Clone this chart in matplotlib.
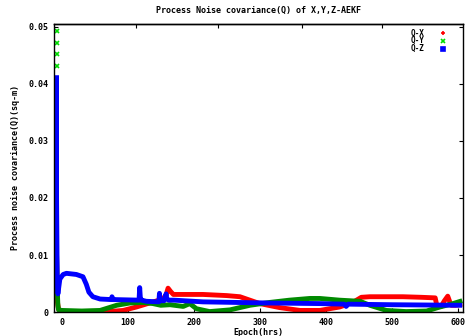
import numpy as np
import matplotlib
matplotlib.use('Agg')
import matplotlib.pyplot as plt

# values (epoch in hrs, Q in sq-m)
qx_t = [-8, -8, -7, -5, 0, 30, 60, 93, 113, 133, 153, 158, 161, 165, 169, 214, 250, 270, 285, 300,
        330, 361, 391, 421, 441, 454, 467, 517, 545, 566, 569, 575, 580, 585, 590, 597, 607]
qx_v = [0.030, 0.010, 0.002, 0.0005, 0.0001, 0.0, 0.0, 0.0003, 0.0009, 0.0016, 0.0023, 0.0030, 0.0042, 0.0036, 0.0031, 0.0031, 0.0029, 0.0027, 0.0021, 0.0015,
        0.0008, 0.0003, 0.0003, 0.0009, 0.0017, 0.0026, 0.0027, 0.0027, 0.0026, 0.0025, 0.0009, 0.0010, 0.0020, 0.0028, 0.0012, 0.0012, 0.0014]

qy_t = [-8, -8, -7, -6, -5, 0, 30, 58, 83, 103, 123, 138, 150, 164, 184, 194, 204, 224, 255, 285,
        315, 345, 376, 391, 421, 452, 467, 492, 522, 553, 573, 593, 607]
qy_v = [0.030, 0.010, 0.004, 0.0012, 0.0004, 0.0003, 0.0002, 0.0003, 0.0012, 0.0016, 0.0017, 0.0015, 0.0012, 0.0013, 0.0010, 0.0015, 0.0006, 0.0001, 0.0004, 0.0012,
        0.0017, 0.0021, 0.0024, 0.0024, 0.0021, 0.0019, 0.0012, 0.0003, 0.0001, 0.0002, 0.0009, 0.0015, 0.0020]
qy_pts_t = [-7, -7, -7, -7]
qy_pts_v = [0.0493, 0.0472, 0.0452, 0.0431]

qz_t = [-8, -8, -7, -6, -3, 2, 7, 22, 32, 37, 41, 47, 58, 75, 76, 78, 80, 117, 118, 119, 121, 128,
        147, 148, 149, 155, 158, 159, 162, 170, 214, 315, 391, 428, 431, 434, 500, 607]
qz_v = [0.0415, 0.020, 0.005, 0.0032, 0.0058, 0.0066, 0.0068, 0.0066, 0.0062, 0.0049, 0.0035, 0.0027, 0.0023, 0.0022, 0.0027, 0.0022, 0.0022, 0.0021, 0.0043, 0.0025, 0.0021, 0.0019,
        0.0018, 0.0033, 0.0020, 0.0020, 0.0032, 0.0024, 0.0021, 0.0021, 0.0018, 0.0016, 0.0015, 0.0014, 0.0010, 0.0014, 0.0013, 0.0012]

title = 'Process Noise covariance(Q) of X,Y,Z-AEKF'
xlab = 'Epoch(hrs)'
ylab = 'Process noise covariance(Q)(sq-m)'
xticks = [0, 100, 200, 300, 400, 500, 600]
top_ticks = [113, 236, 364, 486]
yticks = [0, 0.01, 0.02, 0.03, 0.04, 0.05]
ytick_labels = ['0', '0.01', '0.02', '0.03', '0.04', '0.05']

plt.rcParams['font.family'] = 'DejaVu Sans Mono'
plt.rcParams['font.weight'] = 'bold'
plt.rcParams['axes.titleweight'] = 'bold'
plt.rcParams['axes.labelweight'] = 'bold'
plt.rcParams['font.size'] = 6

fig = plt.figure(figsize=(4.69, 3.36), dpi=100)
ax = fig.add_axes([0.115, 0.071, 0.872, 0.858])

red = '#ff0000'
green = '#008a00'
blue = '#0000ff'

ax.plot(qx_t, qx_v, color=red, lw=3.5, solid_capstyle='butt')
ax.plot(qy_t, qy_v, color=green, lw=3.5, solid_capstyle='butt')
ax.plot(qy_pts_t, qy_pts_v, ls='none', marker='x', color='#00dd00', ms=3, mew=1.2)
ax.plot(qz_t, qz_v, color=blue, lw=3.5, solid_capstyle='butt')

# legend as in gnuplot: label, then marker
lx, ly = 0.905, 0.968
for i, (lab, mk, col) in enumerate([('Q-X', '+', red), ('Q-Y', 'x', '#00dd00'), ('Q-Z', 's', blue)]):
    y = ly - i * 0.027
    ax.text(lx, y, lab, transform=ax.transAxes, ha='right', va='center', fontsize=5.5, fontweight='bold')
    ax.plot([0.952], [y], transform=ax.transAxes, marker=mk, color=col, ms=3, mew=1.2, ls='none')

ax.set_xlim(-12, 608)
ax.set_ylim(0, 0.0505)
ax.set_xticks(xticks)
ax.set_xticklabels([str(t) for t in xticks], fontweight='bold')
ax.set_yticks(yticks)
ax.set_yticklabels(ytick_labels, fontweight='bold')
ax.tick_params(direction='in', length=3, right=True, pad=4)

ax2 = ax.secondary_xaxis('top')
ax2.set_xticks(top_ticks)
ax2.set_xticklabels([])
ax2.tick_params(direction='in', length=3)

ax.set_title(title, fontsize=6, pad=8, fontweight='bold')
ax.set_xlabel(xlab, labelpad=1, fontweight='bold')
ax.set_ylabel(ylab, labelpad=6, fontweight='bold')
for s in ax.spines.values():
    s.set_linewidth(1.0)
ax2.spines['top'].set_linewidth(1.0)

plt.savefig('out.png', dpi=100)
